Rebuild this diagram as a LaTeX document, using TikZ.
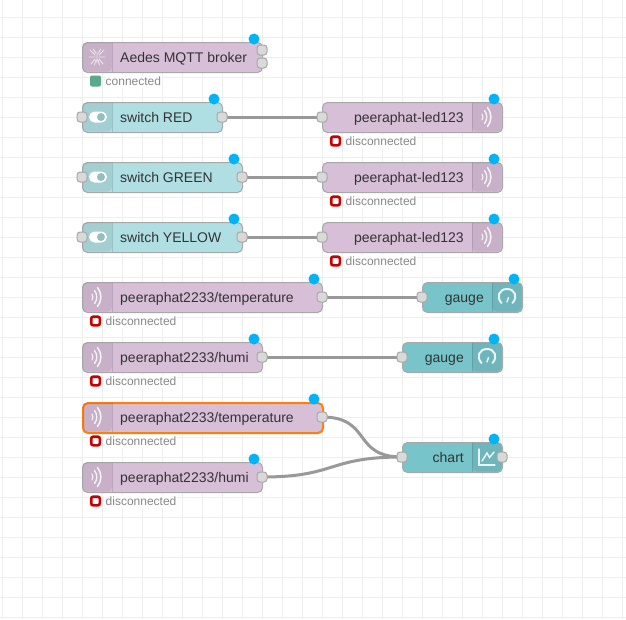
\documentclass[tikz,border=0pt]{standalone}
\usepackage{fontspec}
\setmainfont{Liberation Sans}
\usetikzlibrary{backgrounds}
\definecolor{mqttc}{HTML}{D8BFD8}
\definecolor{switchc}{HTML}{B0DFE3}
\definecolor{dashc}{HTML}{77C4CA}
\definecolor{portc}{HTML}{D9D9D9}
\definecolor{edgec}{HTML}{A8A8A8}
\definecolor{wirec}{HTML}{999999}
\definecolor{gridc}{HTML}{EEEEEE}
\definecolor{dotc}{HTML}{00B4F5}
\definecolor{textc}{HTML}{333333}
\definecolor{stattc}{HTML}{888888}
\definecolor{okc}{HTML}{5AA98A}
\definecolor{badc}{HTML}{C80000}
\definecolor{selc}{HTML}{FF7F0E}
\tikzset{
  x=1pt,y=-1pt,
  gridline/.style={draw=gridc,line width=1pt},
  base/.style={draw=edgec,line width=1pt,rounded corners=5pt,minimum height=30pt,inner sep=0pt,anchor=north west},
  selected/.style={draw=selc,line width=2pt},
  label/.style={text=textc,font=\fontsize{14}{16}\selectfont,inner sep=0pt,text height=12pt,text depth=2pt},
  portbox/.style={draw=edgec,fill=portc,line width=1pt,rounded corners=3pt,minimum size=10pt,inner sep=0pt},
  changed/.style={circle,fill=dotc,minimum size=11pt,inner sep=0pt},
  wire/.style={draw=wirec,line width=3pt},
  shade/.style={fill=black,fill opacity=.07},
  divider/.style={draw=black,draw opacity=.12,line width=1pt},
  glyph/.style={draw=white,line width=1.4pt,line cap=round,draw opacity=.85},
  stattext/.style={text=stattc,fill=white,font=\fontsize{12}{14}\selectfont,inner sep=0.5pt,anchor=west,text height=10pt,text depth=2pt},
  statok/.style={fill=okc,rounded corners=2pt,minimum size=11pt,inner sep=0pt},
  statbad/.style={draw=badc,fill=white,line width=2.6pt,rounded corners=2pt,minimum size=8.6pt,inner sep=0pt},
}
% name, x, y, width, colour, extra
\newcommand{\fbody}[6]{\node[base,fill=#5,minimum width=#4pt,#6] (#1) at (#2,#3) {};}
\newcommand{\iconleft}[2]{%
  \fill[shade] (#1+30,#2+.5) [rounded corners=4.5pt] -- (#1+.5,#2+.5) -- (#1+.5,#2+29.5) -- (#1+30,#2+29.5) [sharp corners] -- cycle;
  \draw[divider] (#1+30,#2+.5) -- (#1+30,#2+29.5);}
\newcommand{\iconright}[2]{%
  \fill[shade] (#1-30,#2+.5) [rounded corners=4.5pt] -- (#1-.5,#2+.5) -- (#1-.5,#2+29.5) -- (#1-30,#2+29.5) [sharp corners] -- cycle;
  \draw[divider] (#1-30,#2+.5) -- (#1-30,#2+29.5);}
\newcommand{\wave}[2]{%
  \draw[glyph,line width=1.1pt] (#1+10,#2+12) .. controls (#1+11.2,#2+14) and (#1+11.2,#2+16) .. (#1+10,#2+18);
  \draw[glyph,line width=1.3pt] (#1+12.5,#2+8.5) .. controls (#1+15.5,#2+12) and (#1+15.5,#2+18) .. (#1+12.5,#2+21.5);
  \draw[glyph,line width=1.5pt] (#1+15.5,#2+5.5) .. controls (#1+20,#2+11) and (#1+20,#2+19) .. (#1+15.5,#2+24.5);}
\newcommand{\stat}[5]{%
  \node[stattext] (#1-t) at (#2+28,#3+39) {#4};
  \node[#5] (#1-s) at (#2+18.5,#3+39) {};}
\begin{document}
\begin{tikzpicture}
\useasboundingbox (0,0) rectangle (626,619);
\begin{scope}[on background layer]
  \fill[white] (0,0) rectangle (626,619);
  \foreach \g in {2.5,22.5,...,622.5} \draw[gridline] (\g,0) -- (\g,619);
  \foreach \g in {17.5,37.5,...,617.5} \draw[gridline] (0,\g) -- (626,\g);
\end{scope}

% Aedes broker
\fbody{aedes}{82}{42}{180}{mqttc}{}
\iconleft{82}{42}
\begin{scope}[shift={(97,57)}]
  \draw[glyph,line width=.9pt,draw opacity=.65] (0,-5) -- (0,6) (-2,-2) -- (-7,-7) (2,-2) -- (7,-7) (-2,0) -- (-8,0) (2,0) -- (8,0) (-2,2) -- (-6,7) (2,2) -- (6,7) (-1.5,-4) -- (-3.5,-8) (1.5,-4) -- (3.5,-8) (-1,3) -- (-2.5,8) (1,3) -- (2.5,8);
\end{scope}
\node[label,anchor=west] (aedes-t) at (120,57) {Aedes MQTT broker};
\node[portbox] (aedes-a) at (262,50) {};
\node[portbox] (aedes-b) at (262,63) {};
\node[changed] (aedes-d) at (254,39) {};
\stat{aedes}{77}{42}{connected}{statok}
% Switches
\foreach \nm/\yy/\ww/\txt in {swr/102/140/switch RED,swg/162/160/switch GREEN,swy/222/160/switch YELLOW}{
  \fbody{\nm}{82}{\yy}{\ww}{switchc}{}
  \iconleft{82}{\yy}
  \fill[white] (89,\yy+9.5) [rounded corners=5.5pt] rectangle (107,\yy+20.5);
  \fill[switchc!85!black] (101,\yy+15) circle[radius=4pt];
  \node[label,anchor=west] (\nm-t) at (120,\yy+15) {\txt};
  \node[portbox] (\nm-i) at (82,\yy+15) {};
  \node[portbox] (\nm-o) at (82+\ww,\yy+15) {};
  \node[changed] (\nm-d) at (74+\ww,\yy-3) {};
}
% MQTT out
\foreach \nm/\yy in {lr/102,lg/162,ly/222}{
  \fbody{\nm}{322}{\yy}{180}{mqttc}{}
  \iconright{502}{\yy}
  \wave{472}{\yy}
  \node[label,anchor=east] (\nm-t) at (464,\yy+15) {peeraphat-led123};
  \node[portbox] (\nm-i) at (322,\yy+15) {};
  \node[changed] (\nm-d) at (494,\yy-3) {};
  \stat{\nm}{317}{\yy}{disconnected}{statbad}
}
% MQTT in
\foreach \nm/\yy/\ww/\txt/\sty in {ta/282/240/peeraphat2233\slash temperature/{},ha/342/180/peeraphat2233\slash humi/{},tb/402/240/peeraphat2233\slash temperature/selected,hb/462/180/peeraphat2233\slash humi/{}}{
  \fbody{\nm}{82}{\yy}{\ww}{mqttc}{\sty}
  \iconleft{82}{\yy}
  \wave{82}{\yy}
  \node[label,anchor=west] (\nm-t) at (120,\yy+15) {\txt};
  \node[portbox] (\nm-o) at (82+\ww,\yy+15) {};
  \node[changed] (\nm-d) at (74+\ww,\yy-3) {};
  \stat{\nm}{77}{\yy}{disconnected}{statbad}
}
% Dashboard
\foreach \nm/\xx/\yy/\txt in {ga/422/282/gauge,gb/402/342/gauge,ch/402/442/chart}{
  \fbody{\nm}{\xx}{\yy}{100}{dashc}{}
  \iconright{\xx+100}{\yy}
  \node[label,anchor=east] (\nm-t) at (\xx+62,\yy+15) {\txt};
  \node[portbox] (\nm-i) at (\xx,\yy+15) {};
  \node[changed] (\nm-d) at (\xx+92,\yy-3) {};
}
\node[portbox] (ch-o) at (502,457) {};
% gauge icons
\foreach \xx/\yy in {507/297,487/357}{
  \draw[glyph,line width=2pt] (\xx-5.5,\yy+6) .. controls (\xx-11,\yy+0) and (\xx-8,\yy-8) .. (\xx,\yy-8) .. controls (\xx+8,\yy-8) and (\xx+11,\yy+0) .. (\xx+5.5,\yy+6);
  \draw[glyph,line width=1.5pt] (\xx,\yy+5) -- (\xx+1.5,\yy+0.5);
}
% chart icon
\draw[glyph,line width=1.2pt] (479,449) -- (479,465) -- (495,465);
\draw[glyph,line width=1.5pt] (482,461) -- (487,453) -- (489.5,457.5) -- (494,452);

\begin{scope}[on background layer]
  \draw[wire] (swr-o.center) -- (lr-i.center);
  \draw[wire] (swg-o.center) -- (lg-i.center);
  \draw[wire] (swy-o.center) -- (ly-i.center);
  \draw[wire] (ta-o.center) -- (ga-i.center);
  \draw[wire] (ha-o.center) -- (gb-i.center);
  \draw[wire] (tb-o.center) .. controls +(50,0) and +(-50,0) .. (ch-i.center);
  \draw[wire] (hb-o.center) .. controls +(75,0) and +(-75,0) .. (ch-i.center);
\end{scope}
\end{tikzpicture}
\end{document}
